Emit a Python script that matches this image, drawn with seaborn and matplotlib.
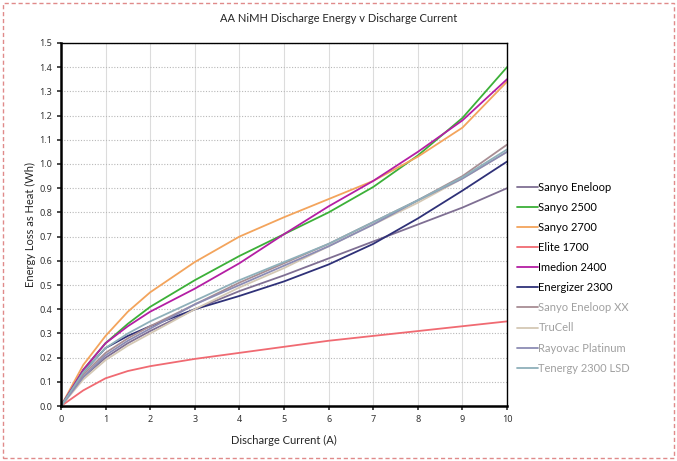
import numpy as np
import pandas as pd
import matplotlib
matplotlib.use("Agg")
import matplotlib.pyplot as plt
from matplotlib.patches import Rectangle
import seaborn as sns

# discharge current (A)
current = [0, 0.5, 1, 1.5, 2, 3, 4, 5, 6, 7, 8, 9, 10]

# energy loss as heat (Wh)
sanyo_eneloop = [0, 0.12, 0.20, 0.26, 0.31, 0.40, 0.475, 0.54, 0.61, 0.68, 0.75, 0.82, 0.90]
sanyo_2500 = [0, 0.15, 0.26, 0.34, 0.41, 0.52, 0.62, 0.71, 0.80, 0.905, 1.035, 1.19, 1.40]
sanyo_2700 = [0, 0.17, 0.29, 0.39, 0.47, 0.595, 0.70, 0.78, 0.855, 0.93, 1.03, 1.15, 1.34]
elite_1700 = [0, 0.065, 0.115, 0.145, 0.165, 0.195, 0.22, 0.245, 0.27, 0.29, 0.31, 0.33, 0.35]
imedion_2400 = [0, 0.15, 0.26, 0.33, 0.39, 0.485, 0.59, 0.71, 0.825, 0.93, 1.05, 1.18, 1.35]
energizer_2300 = [0, 0.14, 0.24, 0.29, 0.33, 0.40, 0.455, 0.515, 0.585, 0.67, 0.775, 0.89, 1.01]
eneloop_xx = [0, 0.13, 0.22, 0.28, 0.33, 0.42, 0.51, 0.59, 0.67, 0.76, 0.85, 0.95, 1.08]
trucell = [0, 0.11, 0.19, 0.25, 0.30, 0.40, 0.49, 0.57, 0.66, 0.75, 0.84, 0.94, 1.05]
rayovac = [0, 0.12, 0.21, 0.27, 0.32, 0.42, 0.50, 0.58, 0.66, 0.75, 0.85, 0.94, 1.05]
tenergy = [0, 0.14, 0.24, 0.30, 0.35, 0.435, 0.52, 0.595, 0.67, 0.76, 0.85, 0.945, 1.06]

names = ["Sanyo Eneloop", "Sanyo 2500", "Sanyo 2700", "Elite 1700", "Imedion 2400",
         "Energizer 2300", "Sanyo Eneloop XX", "TruCell", "Rayovac Platinum", "Tenergy 2300 LSD"]
series = [sanyo_eneloop, sanyo_2500, sanyo_2700, elite_1700, imedion_2400,
          energizer_2300, eneloop_xx, trucell, rayovac, tenergy]
colors = ["#7f6f93", "#3cb038", "#f3a45c", "#f06a72", "#b41ea4",
          "#2f3178", "#a88e94", "#d4c8b4", "#8c8cb4", "#8fb0ba"]
label_colors = ["black"] * 6 + ["#a0a0a0"] * 4

rows = []
for n, s in zip(names, series):
    for x, y in zip(current, s):
        rows.append({"Current": x, "Energy": y, "Battery": n})
df = pd.DataFrame(rows)

sns.set_theme(style="white")
plt.rcParams["font.family"] = ["Lato", "DejaVu Sans"]

fig = plt.figure(figsize=(6.77, 4.61), dpi=100)
ax = fig.add_axes([0.090, 0.119, 0.659, 0.788])

sns.lineplot(data=df, x="Current", y="Energy", hue="Battery", hue_order=names,
             palette=dict(zip(names, colors)), linewidth=1.3, sort=False, ax=ax)

ax.set_xlim(0, 10)
ax.set_ylim(0, 1.5)
ax.set_xticks(range(0, 11))
ax.set_yticks(np.arange(0, 1.51, 0.1))
ax.set_yticklabels([f"{v:.1f}" for v in np.arange(0, 1.51, 0.1)])
for lab in ax.get_xticklabels() + ax.get_yticklabels():
    lab.set_family(["Noto Sans", "DejaVu Sans"])
ax.xaxis.grid(True, color="#dcdcdc", linewidth=0.8)
ax.yaxis.grid(True, color="#b8b8b8", linewidth=0.8, linestyle=(0, (1, 1.5)))
ax.set_axisbelow(True)
ax.tick_params(axis="both", labelsize=6.5, colors="#333333", length=3, direction="out",
               bottom=True, left=True)
for side in ["top", "right"]:
    ax.spines[side].set_color("black")
    ax.spines[side].set_linewidth(1.0)
for side in ["left", "bottom"]:
    ax.spines[side].set_color("black")
    ax.spines[side].set_linewidth(1.8)

ax.set_xlabel("Discharge Current (A)", fontsize=8, labelpad=8)
ax.set_ylabel("Energy Loss as Heat (Wh)", fontsize=8, labelpad=2)
fig.text(0.5, 0.96, "AA NiMH Discharge Energy v Discharge Current",
         ha="center", va="center", fontsize=8)

leg = ax.legend(loc="upper left", bbox_to_anchor=(0.755, 0.618),
                bbox_transform=fig.transFigure, frameon=False, fontsize=8,
                handlelength=1.9, handletextpad=0.05, borderpad=0,
                labelspacing=0.82)
for t, c in zip(leg.get_texts(), label_colors):
    t.set_color(c)

fig.patches.append(Rectangle((0.005, 0.006), 0.99, 0.988, transform=fig.transFigure,
                             fill=False, edgecolor="#e08a8a", linewidth=1.0,
                             linestyle=(0, (3, 2))))

fig.savefig("out.png", dpi=100)
